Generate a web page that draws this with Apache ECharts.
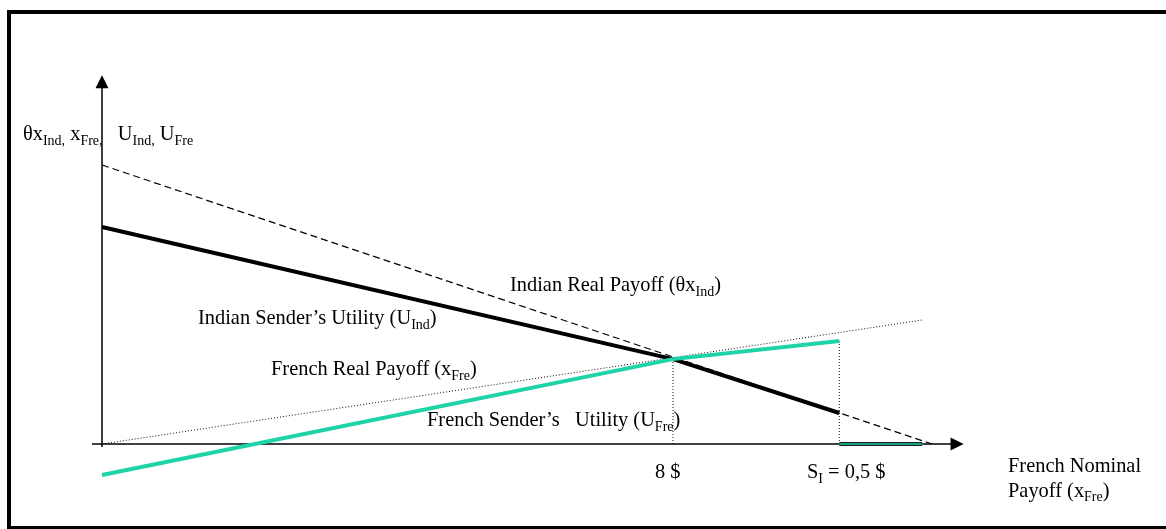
<!DOCTYPE html>
<html><head><meta charset="utf-8">
<script src="https://cdn.jsdelivr.net/npm/echarts@6/dist/echarts.min.js"></script>
<style>html,body{margin:0;padding:0;background:#fff}#c{width:1166px;height:529px}</style>
</head><body><div id="c"></div>
<script>
// ---- data (abstract units: x = French nominal payoff, y = payoff/utility) ----
const indianRealPayoff = [[0, 7.56], [11.63, 0]];
const indianUtility    = [[0, 5.88], [8, 2.30], [10.33, 0.84]];
const frenchUtility    = [[0, -0.84], [8, 2.30], [10.33, 2.79]];
const frenchUtilityFlat = [[10.33, 0], [11.49, 0]];
const frenchRealPayoff = [[0, 0], [11.49, 3.36]];
const tickValues = [8, 10.33];
const guideTops  = [2.30, 2.79];
const tickLabels = ['8 $', 'S{s|I} = 0,5 $'];
const axisXRange = [-0.14, 11.98];
const axisYRange = [-0.08, 9.82];

const TEAL = '#1fd3a9';
const FONT = '20.4px "Liberation Serif", "Times New Roman", serif';
const rich = { s: { fontSize: 14, fontFamily: 'Liberation Serif', lineHeight: 14, verticalAlign: 'bottom', fill: '#000' } };

function txt(text, x, y, lh) {
  return { type: 'text', x: x, y: y, silent: true, z: 100,
    style: { text: text, font: FONT, fill: '#000', lineHeight: lh || 26, verticalAlign: 'top', align: 'left', rich: rich } };
}

const tickLabelLeft = [655, 807];

const chart = echarts.init(document.getElementById('c'), null, { renderer: 'canvas' });

const guideSeries = tickValues.map((v, i) => ({
  type: 'line', symbol: 'none', silent: true, z: 2,
  data: [[v, 0], [v, guideTops[i]]],
  lineStyle: { color: '#111', width: 1, type: [1, 2] }
}));

chart.setOption({
  animation: false,
  backgroundColor: '#fff',
  grid: { left: 87.725, top: 67.62, width: 885.05, height: 413.28, containLabel: false },
  xAxis: { type: 'value', min: -0.2, max: 12.2, show: false },
  yAxis: { type: 'value', min: -1, max: 10.2, show: false },
  series: [
    {
      name: 'axes', type: 'line', data: [], symbol: 'none', silent: true, z: 1,
      markLine: {
        silent: true, animation: false,
        symbol: ['none', 'triangle'], symbolSize: [13, 13],
        label: { show: false },
        lineStyle: { color: '#000', width: 1.5, type: 'solid' },
        emphasis: { disabled: true },
        data: [
          [{ coord: [axisXRange[0], 0] }, { coord: [axisXRange[1], 0] }],
          [{ coord: [0, axisYRange[0]] }, { coord: [0, axisYRange[1]] }]
        ]
      }
    },
    { name: 'French Real Payoff', type: 'line', data: frenchRealPayoff, symbol: 'none', silent: true, z: 2,
      lineStyle: { color: '#111', width: 1, type: [1, 2] } },
    ...guideSeries,
    { name: 'Indian Real Payoff', type: 'line', data: indianRealPayoff, symbol: 'none', silent: true, z: 3,
      lineStyle: { color: '#000', width: 1.2, type: [7, 4] } },
    { name: 'Indian Utility', type: 'line', data: indianUtility, symbol: 'none', silent: true, z: 4,
      lineStyle: { color: '#000', width: 4 } },
    { name: 'French Utility flat base', type: 'line', data: frenchUtilityFlat, symbol: 'none', silent: true, z: 4,
      lineStyle: { color: '#222', width: 4 } },
    { name: 'French Utility flat', type: 'line', data: frenchUtilityFlat, symbol: 'none', silent: true, z: 5,
      lineStyle: { color: TEAL, width: 1.5 } },
    { name: 'French Utility', type: 'line', data: frenchUtility, symbol: 'none', silent: true, z: 5,
      lineStyle: { color: TEAL, width: 4 } }
  ],
  graphic: [
    { type: 'rect', silent: true, z: 200, shape: { x: 9, y: 12, width: 1175, height: 516 },
      style: { fill: 'none', stroke: '#000', lineWidth: 4 } },
    txt('θx{s|Ind,} x{s|Fre,}   U{s|Ind,} U{s|Fre}', 23, 122),
    txt('Indian Real Payoff (θx{s|Ind})', 510, 273),
    txt('Indian Sender’s Utility (U{s|Ind})', 198, 306),
    txt('French Real Payoff (x{s|Fre})', 271, 357),
    txt('French Sender’s   Utility (U{s|Fre})', 427, 408),
    txt(tickLabels[0], tickLabelLeft[0], 460),
    txt(tickLabels[1], tickLabelLeft[1], 460),
    txt('French Nominal\nPayoff (x{s|Fre})', 1008, 454, 25)
  ]
});
</script>
</body></html>
